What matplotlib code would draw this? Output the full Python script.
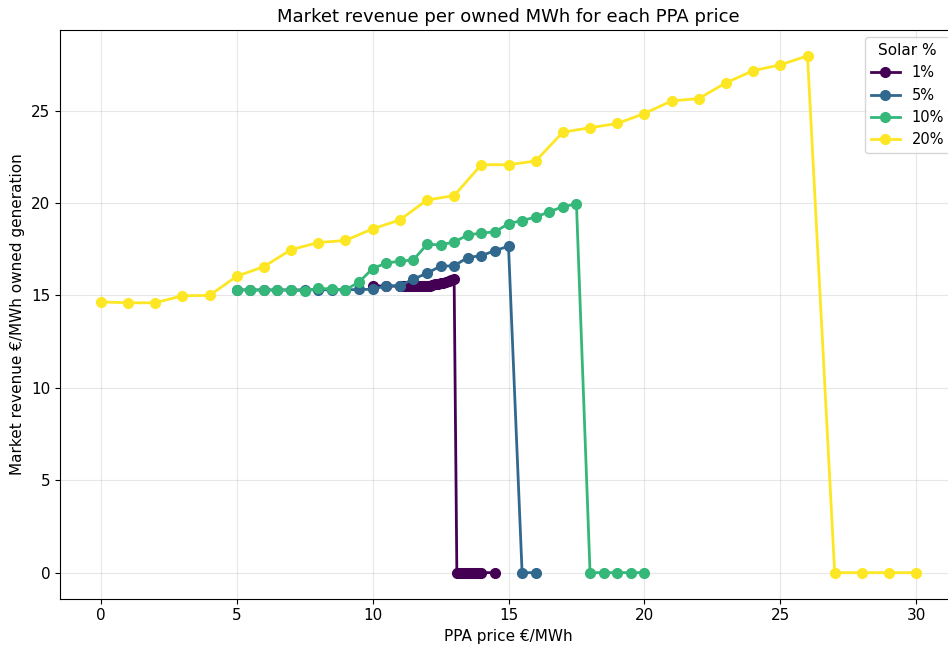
import numpy as np
import matplotlib.pyplot as plt

# PPA prices and market revenue per owned MWh, per solar share
ppa_1 = [10, 10.5, 11, 11.1, 11.2, 11.3, 11.4, 11.5, 11.6, 11.7, 11.8, 11.9, 12.0,
         12.1, 12.2, 12.3, 12.4, 12.5, 12.6, 12.7, 12.8, 12.9, 13.0,
         13.1, 13.2, 13.3, 13.4, 13.5, 13.6, 13.7, 13.8, 13.9, 14.0, 14.5]
rev_1 = [15.52, 15.5, 15.5, 15.5, 15.5, 15.5, 15.5, 15.5, 15.5, 15.5, 15.5, 15.5, 15.52,
         15.52, 15.55, 15.6, 15.62, 15.65, 15.68, 15.72, 15.76, 15.82, 15.9,
         0, 0, 0, 0, 0, 0, 0, 0, 0, 0, 0]

ppa_5 = [5, 5.5, 6, 6.5, 7, 7.5, 8, 8.5, 9, 9.5, 10, 10.5, 11, 11.5, 12, 12.5,
         13, 13.5, 14, 14.5, 15, 15.5, 16]
rev_5 = [15.3, 15.3, 15.3, 15.3, 15.3, 15.3, 15.3, 15.3, 15.3, 15.32, 15.33, 15.52, 15.52,
         15.88, 16.2, 16.58, 16.6, 17.05, 17.15, 17.42, 17.66, 0, 0]

ppa_10 = [5, 5.5, 6, 6.5, 7, 7.5, 8, 8.5, 9, 9.5, 10, 10.5, 11, 11.5, 12, 12.5,
          13, 13.5, 14, 14.5, 15, 15.5, 16, 16.5, 17, 17.5, 18, 18.5, 19, 19.5, 20]
rev_10 = [15.3, 15.28, 15.28, 15.28, 15.28, 15.25, 15.38, 15.35, 15.3, 15.72, 16.45,
          16.75, 16.85, 16.92, 17.76, 17.74, 17.88, 18.27, 18.37, 18.44, 18.88, 19.05,
          19.24, 19.52, 19.8, 19.95, 0, 0, 0, 0, 0]

ppa_20 = list(range(0, 31))
rev_20 = [14.65, 14.6, 14.6, 14.98, 15.0, 16.03, 16.56, 17.47, 17.86, 17.97, 18.6,
          19.08, 20.16, 20.4, 22.07, 22.07, 22.27, 23.83, 24.07, 24.3, 24.84, 25.52,
          25.65, 26.5, 27.16, 27.47, 27.96, 0, 0, 0, 0]

labels = ['1%', '5%', '10%', '20%']
series = [(ppa_1, rev_1), (ppa_5, rev_5), (ppa_10, rev_10), (ppa_20, rev_20)]
colors = plt.cm.viridis(np.linspace(0, 1, 4))

fig = plt.figure(figsize=(9.48, 6.45), dpi=100)
ax = fig.add_axes([60 / 948, 46.5 / 645, 897 / 948, 568.5 / 645])

for (x, y), lab, c in zip(series, labels, colors):
    ax.plot(x, y, marker='o', color=c, linewidth=2, markersize=7, label=lab)

ax.set_title("Market revenue per owned MWh for each PPA price", fontsize=13)
ax.set_xlabel("PPA price €/MWh", fontsize=11)
ax.set_ylabel("Market revenue €/MWh owned generation", fontsize=11)
ax.tick_params(labelsize=11)
ax.grid(True, alpha=0.3)
ax.legend(title="Solar %", loc='upper right', fontsize=10.5, title_fontsize=11)

fig.savefig("out.png", dpi=100)
